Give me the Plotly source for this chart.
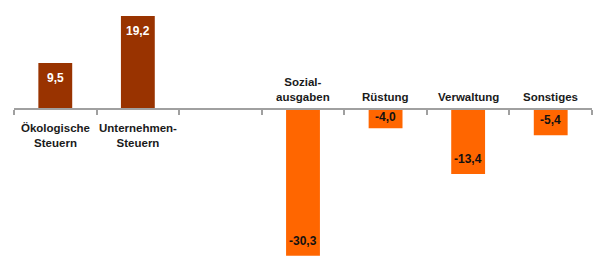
import plotly.graph_objects as go

categories = ["Ökologische<br>Steuern", "Unternehmen-<br>Steuern", "", "Sozial-<br>ausgaben",
              "Rüstung", "Verwaltung", "Sonstiges"]
values = [9.5, 19.2, None, -30.3, -4.0, -13.4, -5.4]
value_labels = ["9,5", "19,2", "", "-30,3", "-4,0", "-13,4", "-5,4"]

POS = "#993300"
NEG = "#FF6600"
FONT = "Liberation Sans, Arial, sans-serif"

H = 256
ymin = -30.35
zero_px_from_top = 109
ymax = zero_px_from_top / (H - zero_px_from_top) * (-ymin)
px_per_unit = H / (ymax - ymin)

xs = [i for i, v in enumerate(values) if v is not None]
ys = [v for v in values if v is not None]
colors = [POS if v > 0 else NEG for v in ys]

fig = go.Figure()
fig.add_trace(go.Bar(
    x=xs, y=ys, width=0.41, marker=dict(color=colors, line=dict(width=0)),
    hoverinfo="skip",
))

annotations = []
TEXT_H = 14
for i, (c, v, lab) in enumerate(zip(categories, values, value_labels)):
    if v is None:
        continue
    cat_text = "<br>".join("<b>" + part + "</b>" for part in c.split("<br>"))
    bar_px = abs(v) * px_per_unit
    pad = min(6, max(0, (bar_px - TEXT_H) / 2))
    if v > 0:
        annotations.append(dict(x=i, y=0, xref="x", yref="y", text=cat_text,
                                showarrow=False, yanchor="top", yshift=-11,
                                font=dict(family=FONT, size=11.5, color="#1a1a1a")))
        annotations.append(dict(x=i, y=v, xref="x", yref="y", text="<b>" + lab + "</b>",
                                showarrow=False, yanchor="top", yshift=-pad,
                                font=dict(family=FONT, size=12, color="white")))
    else:
        annotations.append(dict(x=i, y=0, xref="x", yref="y", text=cat_text,
                                showarrow=False, yanchor="bottom", yshift=4,
                                font=dict(family=FONT, size=11.5, color="#1a1a1a")))
        annotations.append(dict(x=i, y=v, xref="x", yref="y", text="<b>" + lab + "</b>",
                                showarrow=False, yanchor="bottom", yshift=pad,
                                font=dict(family=FONT, size=12, color="#111111")))

n = len(categories)
zero_pos = (0 - ymin) / (ymax - ymin)

fig.update_layout(
    width=594, height=H,
    margin=dict(l=14, r=2, t=0, b=0),
    paper_bgcolor="white", plot_bgcolor="white",
    showlegend=False,
    font=dict(family=FONT, size=12, color="#111111"),
    xaxis=dict(range=[-0.5, n - 0.5], tickmode="array",
               tickvals=[i - 0.5 for i in range(n + 1)],
               showticklabels=False, ticks="outside", ticklen=5, tickwidth=2, tickcolor="#a0a0a0",
               showline=True, linecolor="#a0a0a0", linewidth=2, showgrid=False, zeroline=False,
               anchor="free", position=zero_pos),
    yaxis=dict(range=[ymin, ymax], visible=False, showgrid=False, zeroline=False),
    annotations=annotations,
)

fig.write_html("out.html", config={"displayModeBar": False},
               post_script="document.body.style.margin='0';document.documentElement.style.overflow='hidden';")
